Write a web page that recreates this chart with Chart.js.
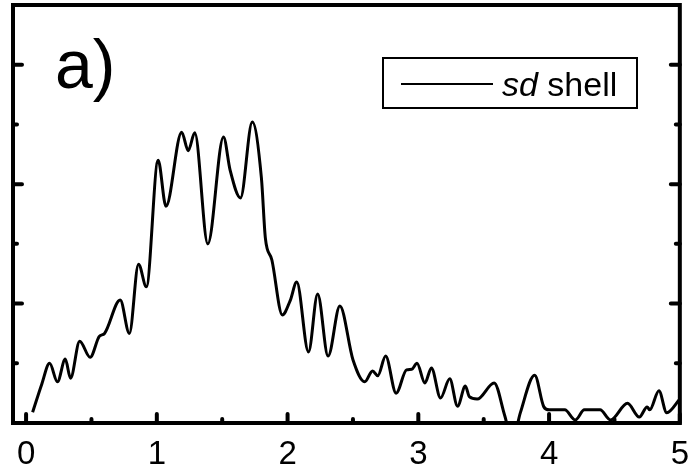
<!DOCTYPE html>
<html>
<head>
<meta charset="utf-8">
<script src="https://cdn.jsdelivr.net/npm/chart.js@4/dist/chart.umd.min.js"></script>
<style>
  body { margin: 0; background: #fff; }
  #wrap { width: 693px; height: 468px; }
</style>
</head>
<body>
<div id="wrap"><canvas id="chart"></canvas></div>
<script>
// energy axis (x) and strength (y)
const xValues = [0.05, 0.12, 0.18, 0.24, 0.30, 0.34, 0.41, 0.49, 0.56, 0.60,
    0.72, 0.79, 0.86, 0.92, 1.01, 1.07, 1.19, 1.24, 1.29, 1.39,
    1.51, 1.56, 1.64, 1.73, 1.80, 1.83, 1.88, 1.96, 2.02, 2.07,
    2.16, 2.23, 2.31, 2.40, 2.50, 2.59, 2.65, 2.69, 2.75, 2.83,
    2.91, 2.95, 2.99, 3.05, 3.10, 3.17, 3.24, 3.30, 3.36, 3.39,
    3.45, 3.58, 3.66, 3.72, 3.78, 3.89, 3.96, 4.00, 4.12, 4.20,
    4.27, 4.39, 4.47, 4.60, 4.69, 4.75, 4.77, 4.84, 4.90, 5.00];
const yValues = [0.18, 0.65, 1.00, 0.69, 1.07, 0.75, 1.37, 1.10, 1.45, 1.50,
    2.06, 1.50, 2.66, 2.28, 4.40, 3.63, 4.87, 4.56, 4.86, 3.00,
    4.79, 4.24, 3.77, 5.04, 4.10, 3.10, 2.73, 1.81, 2.05, 2.36,
    1.19, 2.16, 1.12, 1.96, 1.06, 0.69, 0.87, 0.79, 1.12, 0.50,
    0.89, 0.90, 1.00, 0.67, 0.92, 0.42, 0.74, 0.28, 0.62, 0.44,
    0.40, 0.67, 0.13, -0.30, 0.17, 0.80, 0.27, 0.22, 0.22, 0.05,
    0.22, 0.22, 0.05, 0.33, 0.10, 0.27, 0.22, 0.54, 0.17, 0.40];
const seriesLabel = "shell";
const seriesPrefix = "sd";
const panelLabel = "a)";
const xTickLabels = [0, 1, 2, 3, 4, 5];

const points = xValues.map((x, i) => ({ x: x, y: yValues[i] }));

// frame, inward ticks, panel label and legend box
const decorations = {
    id: "decorations",
    afterDraw(chart) {
        const ctx = chart.ctx;
        const a = chart.chartArea;
        const xs = chart.scales.x;
        const ys = chart.scales.y;
        ctx.save();
        ctx.strokeStyle = "#000";
        ctx.lineCap = "round";

        // x ticks: long at integers, short at halves
        for (let v = 0; v <= 5; v += 0.5) {
            const px = xs.getPixelForValue(v);
            const len = Number.isInteger(v) ? 9 : 4;
            ctx.lineWidth = 4;
            ctx.beginPath();
            ctx.moveTo(px, a.bottom);
            ctx.lineTo(px, a.bottom - len);
            ctx.stroke();
        }
        // y ticks left and right: long at even, short at odd
        for (let v = 1; v <= 6; v++) {
            const py = ys.getPixelForValue(v);
            const len = v % 2 === 0 ? 9 : 4;
            ctx.lineWidth = 4;
            ctx.beginPath();
            ctx.moveTo(a.left, py);
            ctx.lineTo(a.left + len, py);
            ctx.moveTo(a.right, py);
            ctx.lineTo(a.right - len, py);
            ctx.stroke();
        }

        // frame
        ctx.lineCap = "butt";
        ctx.lineWidth = 4;
        ctx.strokeRect(a.left, a.top, a.right - a.left, a.bottom - a.top);

        // panel label
        ctx.fillStyle = "#000";
        ctx.font = "68px 'Liberation Sans', Arial, sans-serif";
        ctx.textBaseline = "alphabetic";
        ctx.fillText(panelLabel, 55, 88);

        // legend
        ctx.lineWidth = 2;
        ctx.strokeRect(383, 58, 254, 50);
        ctx.beginPath();
        ctx.moveTo(401, 84);
        ctx.lineTo(493, 84);
        ctx.stroke();
        ctx.font = "italic 34px 'Liberation Sans', Arial, sans-serif";
        ctx.fillText(seriesPrefix, 502, 96);
        const w = ctx.measureText(seriesPrefix + " ").width;
        ctx.font = "34px 'Liberation Sans', Arial, sans-serif";
        ctx.fillText(seriesLabel, 502 + w, 96);
        ctx.restore();
    }
};

new Chart(document.getElementById("chart"), {
    type: "line",
    data: {
        datasets: [{
            label: seriesPrefix + " " + seriesLabel,
            data: points,
            borderColor: "#000",
            borderWidth: 3,
            pointRadius: 0,
            fill: false,
            cubicInterpolationMode: "monotone"
        }]
    },
    options: {
        responsive: true,
        maintainAspectRatio: false,
        animation: false,
        layout: { padding: { top: 5, left: 13, right: 10, bottom: 0 } },
        plugins: {
            legend: { display: false },
            tooltip: { enabled: false }
        },
        scales: {
            x: {
                type: "linear",
                min: -0.1,
                max: 5,
                afterBuildTicks(scale) {
                    scale.ticks = xTickLabels.map(v => ({ value: v }));
                },
                afterFit(scale) { scale.height = 45; },
                grid: { display: false },
                border: { display: false },
                ticks: {
                    padding: 4,
                    color: "#000",
                    font: { family: "'Liberation Sans', Arial, sans-serif", size: 33 },
                    maxRotation: 0
                }
            },
            y: {
                min: 0,
                max: 7,
                afterFit(scale) { scale.width = 0; },
                grid: { display: false },
                border: { display: false },
                ticks: { display: false }
            }
        }
    },
    plugins: [decorations]
});
</script>
</body>
</html>
